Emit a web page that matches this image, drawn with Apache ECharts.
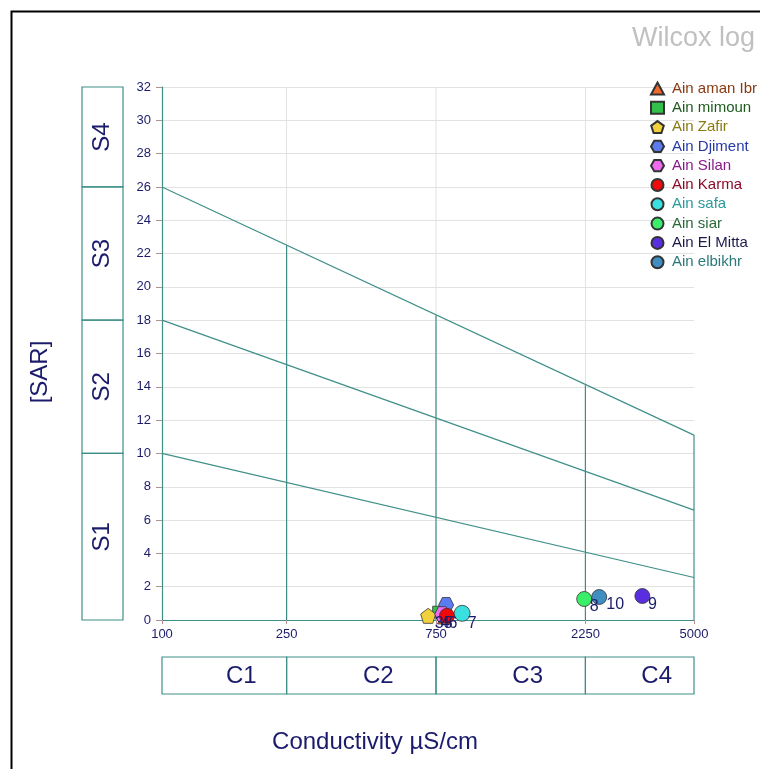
<!DOCTYPE html>
<html>
<head>
<meta charset="utf-8">
<script src="https://cdn.jsdelivr.net/npm/echarts@6/dist/echarts.min.js"></script>
<style>
html,body{margin:0;padding:0;background:#fff;}
#c{width:760px;height:769px;}
</style>
</head>
<body>
<div id="c"></div>
<script>
// ---- data ----
const sampleNames = ['Ain aman Ibr','Ain mimoun','Ain Zafir','Ain Djiment','Ain Silan','Ain Karma','Ain safa','Ain siar','Ain El Mitta','Ain elbikhr'];
const sampleIds = [1,2,3,4,5,6,7,8,9,10];
const conductivity = [795, 762, 708, 808, 785, 813, 909, 2230, 3420, 2490];
const sar = [0.15, 0.5, 0.25, 0.9, 0.35, 0.25, 0.4, 1.26, 1.44, 1.38];
const xTicks = [100, 250, 750, 2250, 5000];
const classBounds = [100, 250, 750, 2250, 5000];
const classLabels = ['C1','C2','C3','C4'];
const sarBounds = [0, 10, 18, 26, 32];
const sarLabels = ['S1','S2','S3','S4'];
const lineS1 = [[100, 10], [5000, 2.55]];
const lineS2 = [[100, 18], [5000, 6.6]];
const lineS3 = [[100, 26], [5000, 11.1]];
const verticalX = [250, 750, 2250, 5000];
const verticalTop = [22.5, 18.3, 14.1, 11.1];

// ---- styles ----
const symbols = [
  'triangle', 'rect',
  'path://M50,0 L97.6,34.5 L79.4,90.5 L20.6,90.5 L2.4,34.5 Z',
  'path://M25,0 L75,0 L100,43.3 L75,86.6 L25,86.6 L0,43.3 Z',
  'path://M25,0 L75,0 L100,43.3 L75,86.6 L25,86.6 L0,43.3 Z',
  'circle','circle','circle','circle','circle'
];
const fills = ['#f06a2a','#33c04a','#f2d23c','#5b7cf0','#f06af0','#f00a0a','#3ae0e0','#3aee6a','#5a2ee0','#3f8ec0'];
const textColors = ['#8a3a10','#1d5a1d','#8a7a10','#2638a8','#8a1a8a','#8a0a2a','#2a9a9a','#2a6a3a','#1a1a4a','#2a7a7a'];
const sizes = [13, 11, 15, 15, 15, 15, 16, 15, 15, 15];
const showIdLabel = [false, false, true, true, true, true, true, true, true, true];
const labelShift = [[0,0],[0,0],[11,8],[-1,19],[6,9],[6,8],[10,10],[10,8],[10,9],[16,8]];
const teal = '#3f8f88';
const navy = '#1b1b6b';
const FONT = '"Liberation Sans", Arial, sans-serif';

const chart = echarts.init(document.getElementById('c'));

const series = [];
// light gray vertical grid lines
[250, 750, 2250].forEach(v => {
  series.push({type:'line', data:[[v,0],[v,32]], symbol:'none', silent:true,
    lineStyle:{color:'#e2e2e2', width:1}, z:1});
});
// diagonal lines
[lineS1, lineS2, lineS3].forEach(d => {
  series.push({type:'line', data:d, symbol:'none', silent:true,
    lineStyle:{color:teal, width:1.2}, z:2});
});
// teal verticals
verticalX.forEach((v, i) => {
  series.push({type:'line', data:[[v,0],[v,verticalTop[i]]], symbol:'none', silent:true,
    lineStyle:{color:teal, width:1.2}, z:2});
});
// SAR class boxes
series.push({
  type:'custom', silent:true, clip:false, z:3,
  data: sarLabels.map((l, i) => [sarBounds[i], sarBounds[i+1]]),
  renderItem: function (params, api) {
    const lo = api.value(0), hi = api.value(1);
    const p0 = api.coord([100, lo]);
    const p1 = api.coord([100, hi]);
    const x = p0[0] - 80, w = 41;
    const y = p1[1], h = p0[1] - p1[1];
    return {type:'group', children:[
      {type:'rect', shape:{x:x, y:y, width:w, height:h},
        style:{fill:'none', stroke:teal, lineWidth:1.2}},
      {type:'text', x:x + w/2, y:y + h/2, rotation:Math.PI/2,
        style:{text:sarLabels[params.dataIndex], fill:navy, font:'24px ' + FONT,
          align:'center', verticalAlign:'middle'}}
    ]};
  }
});
// Conductivity class boxes
series.push({
  type:'custom', silent:true, clip:false, z:3,
  data: classLabels.map((l, i) => [classBounds[i], classBounds[i+1]]),
  renderItem: function (params, api) {
    const a = api.coord([api.value(0), 0]);
    const b = api.coord([api.value(1), 0]);
    const y = a[1] + 37, h = 37;
    return {type:'group', children:[
      {type:'rect', shape:{x:a[0], y:y, width:b[0]-a[0], height:h},
        style:{fill:'none', stroke:teal, lineWidth:1.2}},
      {type:'text', x:(a[0]+b[0])/2 + 17, y:y + h/2 + 1,
        style:{text:classLabels[params.dataIndex], fill:navy, font:'24px ' + FONT,
          align:'center', verticalAlign:'middle'}}
    ]};
  }
});
// samples
sampleNames.forEach((name, i) => {
  series.push({
    type:'scatter', name:name,
    data:[[conductivity[i], sar[i], sampleIds[i]]],
    symbol:symbols[i], symbolSize:sizes[i],
    itemStyle:{color:fills[i], borderColor:'#333', borderWidth:0.8, opacity:1},
    label:{show:showIdLabel[i], position:'inside', offset:labelShift[i],
      formatter:p => String(p.value[2]), color:'#1b1b6b', fontSize:16, fontFamily:FONT,
      textBorderWidth:0},
    z:10
  });
});

const option = {
  animation:false,
  backgroundColor:'#fff',
  grid:{left:162, top:87, right:66, bottom:149, containLabel:false},
  xAxis:{
    type:'log', logBase:10, min:100, max:5000,
    axisLine:{show:true, lineStyle:{color:teal, width:1.2}},
    axisTick:{show:true, customValues:xTicks, length:4, lineStyle:{color:'#b09090'}},
    axisLabel:{customValues:xTicks, color:navy, fontSize:13, fontFamily:FONT, margin:8,
      formatter:v => String(Math.round(v))},
    splitLine:{show:false}, minorTick:{show:false}, minorSplitLine:{show:false}
  },
  yAxis:{
    type:'value', min:0, max:32, interval:2,
    axisLine:{show:true, lineStyle:{color:teal, width:1.2}},
    axisTick:{show:true, length:6, lineStyle:{color:'#b09090'}},
    axisLabel:{color:navy, fontSize:13, fontFamily:FONT, margin:11},
    splitLine:{show:true, lineStyle:{color:'#e2e2e2', width:1}}
  },
  legend:{
    orient:'vertical', left:645, top:76, itemWidth:13, itemHeight:12, itemGap:4.3,
    padding:5,
    data: sampleNames.map((n, i) => ({name:n, textStyle:{color:textColors[i]}})),
    textStyle:{fontSize:15, lineHeight:14, fontFamily:FONT, padding:[0,0,0,3]}
  },
  graphic:[
    {type:'rect', left:9, top:9, shape:{width:820, height:820},
      style:{fill:'none', stroke:'#000', lineWidth:2}, z:-1, silent:true},
    {type:'text', left:632, top:25,
      style:{text:'Wilcox log', fill:'#c0c0c0', font:'27px ' + FONT}},
    {type:'text', x:40, y:372, rotation:Math.PI/2,
      style:{text:'[SAR]', fill:navy, font:'24px ' + FONT, align:'center', verticalAlign:'middle'}},
    {type:'text', x:375, y:742,
      style:{text:'Conductivity µS/cm', fill:navy, font:'24px ' + FONT, align:'center', verticalAlign:'middle'}}
  ],
  series:series
};
chart.setOption(option);
</script>
</body>
</html>
